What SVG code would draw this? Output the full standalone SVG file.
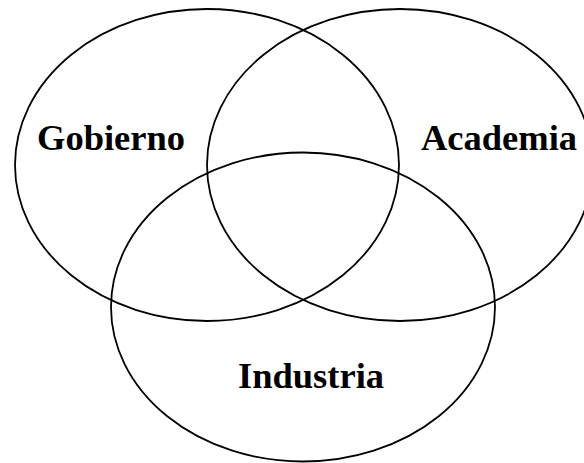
<svg xmlns="http://www.w3.org/2000/svg" width="584" height="463" viewBox="0 0 584 463">
<style>
.c{fill:none;stroke:#000;stroke-width:1.8}
.t{font-family:"Liberation Serif","Times New Roman",serif;font-weight:bold;font-size:36.5px;fill:#000}
</style>
<rect width="584" height="463" fill="#fff"/>
<g id="gobierno"><ellipse class="c" cx="207" cy="165" rx="192" ry="156"/><text class="t" x="37" y="150">Gobierno</text></g>
<g id="academia"><ellipse class="c" cx="400" cy="165" rx="193" ry="156"/><text class="t" x="421" y="150">Academia</text></g>
<g id="industria"><ellipse class="c" cx="303" cy="307" rx="192" ry="154.5"/><text class="t" x="238" y="388">Industria</text></g>
<g id="connectors"/>
</svg>
